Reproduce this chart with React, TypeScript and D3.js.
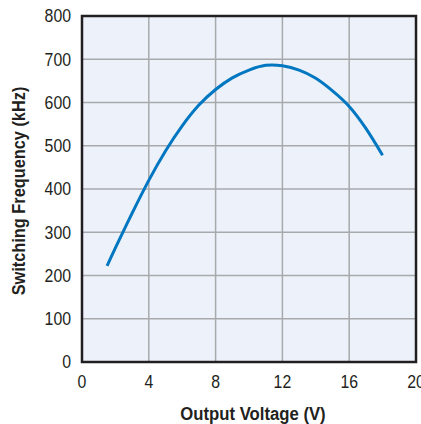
import React, { useEffect, useRef } from "react";
import * as d3 from "d3";

// output voltage (V) vs switching frequency (kHz)
const voltage = [1.5, 2, 3, 4, 5, 6, 7, 8, 9, 10, 11, 12, 13, 14, 15, 16, 17, 18];
const frequency = [222, 264, 344, 420, 488, 546, 594, 630, 657, 675, 686, 685, 675, 656, 627, 591, 540, 478];

const xTicks = [0, 4, 8, 12, 16, 20];
const yTicks = [0, 100, 200, 300, 400, 500, 600, 700, 800];

const W = 421;
const H = 424;
const FONT = "'Liberation Sans', Arial, sans-serif";
const INK = "#231f20";

const App: React.FC = () => {
  const ref = useRef<SVGSVGElement | null>(null);

  useEffect(() => {
    if (!ref.current) return;
    ref.current.innerHTML = "";
    const svg = d3.select(ref.current);

    const left = 82, right = 416, top = 16, bottom = 362;
    const x = d3.scaleLinear().domain([0, 20]).range([left, right]);
    const y = d3.scaleLinear().domain([0, 800]).range([bottom, top]);

    // plot background
    svg.append("rect")
      .attr("x", left).attr("y", top)
      .attr("width", right - left).attr("height", bottom - top)
      .attr("fill", "#edf2fa");

    // grid
    svg.append("g").selectAll("line")
      .data(xTicks.slice(1, -1))
      .join("line")
      .attr("x1", (d) => x(d)).attr("x2", (d) => x(d))
      .attr("y1", top).attr("y2", bottom)
      .attr("stroke", "#a7a9ac").attr("stroke-width", 1.5);
    svg.append("g").selectAll("line")
      .data(yTicks.slice(1, -1))
      .join("line")
      .attr("x1", left).attr("x2", right)
      .attr("y1", (d) => y(d)).attr("y2", (d) => y(d))
      .attr("stroke", "#a7a9ac").attr("stroke-width", 1.5);

    // curve
    const pts = voltage.map((v, i) => [v, frequency[i]] as [number, number]);
    const line = d3.line<[number, number]>()
      .x((d) => x(d[0]))
      .y((d) => y(d[1]))
      .curve(d3.curveNatural);
    svg.append("path")
      .attr("d", line(pts) as string)
      .attr("fill", "none")
      .attr("stroke", "#0077c0")
      .attr("stroke-width", 3);

    // frame
    svg.append("rect")
      .attr("x", left).attr("y", top)
      .attr("width", right - left).attr("height", bottom - top)
      .attr("fill", "none")
      .attr("stroke", INK)
      .attr("stroke-width", 2.5);

    // tick labels (condensed look via horizontal squeeze)
    svg.append("g").selectAll("text")
      .data(yTicks)
      .join("text")
      .attr("transform", (d) => `translate(${left - 11},${y(d)}) scale(0.88,1)`)
      .attr("dy", "0.35em")
      .attr("text-anchor", "end")
      .attr("font-family", FONT)
      .attr("font-size", 18)
      .attr("fill", INK)
      .text((d) => d);
    svg.append("g").selectAll("text")
      .data(xTicks)
      .join("text")
      .attr("transform", (d) => `translate(${x(d)},${bottom + 20}) scale(0.88,1)`)
      .attr("dy", "0.35em")
      .attr("text-anchor", "middle")
      .attr("font-family", FONT)
      .attr("font-size", 18)
      .attr("fill", INK)
      .text((d) => d);

    // axis titles
    svg.append("text")
      .attr("transform", `translate(${(left + right) / 2 + 4},413) scale(0.88,1)`)
      .attr("dy", "0.35em")
      .attr("text-anchor", "middle")
      .attr("font-family", FONT)
      .attr("font-weight", "bold")
      .attr("font-size", 19)
      .attr("fill", INK)
      .text("Output Voltage (V)");
    svg.append("text")
      .attr("transform", `translate(18, ${(top + bottom) / 2 + 2}) rotate(-90) scale(0.86,1)`)
      .attr("dy", "0.35em")
      .attr("text-anchor", "middle")
      .attr("font-family", FONT)
      .attr("font-weight", "bold")
      .attr("font-size", 19)
      .attr("fill", INK)
      .text("Switching Frequency (kHz)");
  }, []);

  return (
    <svg
      ref={ref}
      width={W}
      height={H}
      style={{ position: "absolute", left: 0, top: 0, background: "#fff" }}
    />
  );
};

export default App;
